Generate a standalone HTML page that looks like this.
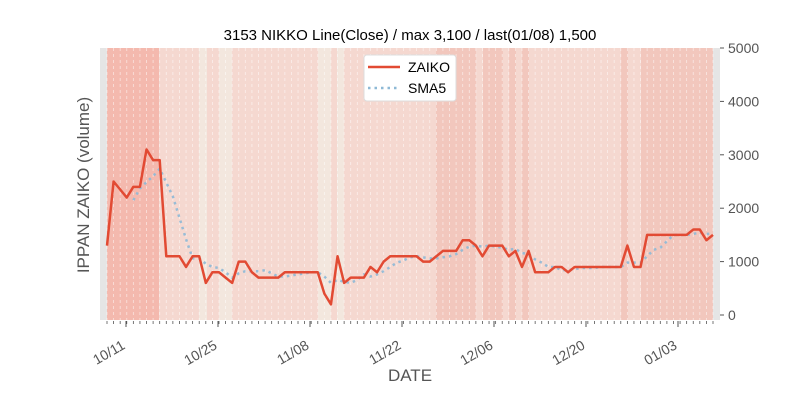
<!DOCTYPE html><html><head><style>body{margin:0;background:#fff}svg{font-family:"Liberation Sans","DejaVu Sans",sans-serif}</style></head><body>
<svg id="s" width="800" height="400" xmlns="http://www.w3.org/2000/svg">
<rect x="100" y="48" width="620" height="272" fill="#e5e5e5"/>
<g id="bands"></g><g id="grid"></g><g id="lines"></g>
<text x="410" y="40" font-size="15" text-anchor="middle" fill="#000">3153 NIKKO Line(Close) / max 3,100 / last(01/08) 1,500</text>
<text transform="translate(89,185) rotate(-90)" font-size="17" fill="#555" text-anchor="middle">IPPAN ZAIKO (volume)</text>
<text x="410" y="381" font-size="17" fill="#555" text-anchor="middle">DATE</text>
<g id="ticks" font-size="14" fill="#555"></g>
<g>
<rect x="364" y="55" width="92" height="46" fill="#fff" stroke="#ddd" rx="3"/>
<line x1="368" y1="67" x2="400" y2="67" stroke="#e24a33" stroke-width="2.5"/>
<line x1="368" y1="88" x2="400" y2="88" stroke="#8eb9d6" stroke-width="2.5" stroke-dasharray="2.5,4"/>
<text x="408" y="72" font-size="14">ZAIKO</text><text x="408" y="93" font-size="14">SMA5</text>
</g>
</svg>
<script>
const NS="http://www.w3.org/2000/svg",s=document.getElementById('s');
function el(p,t,a,txt){const e=document.createElementNS(NS,t);for(const k in a)e.setAttribute(k,a[k]);if(txt)e.textContent=txt;document.getElementById(p).appendChild(e);return e;}
const v=[1300,2500,2350,2200,2400,2400,3100,2900,2900,1100,1100,1100,900,1100,1100,600,800,800,700,600,1000,1000,800,700,700,700,700,800,800,800,800,800,800,400,200,1100,600,700,700,700,900,800,1000,1100,1100,1100,1100,1100,1000,1000,1100,1200,1200,1200,1400,1400,1300,1100,1300,1300,1300,1100,1200,900,1200,800,800,800,900,900,800,900,900,900,900,900,900,900,900,1300,900,900,1500,1500,1500,1500,1500,1500,1500,1600,1600,1400,1500];
const X=i=>107+i*(606/(v.length-1)),Y=d=>315-d*0.0534;
const bands=[[107,159,'#f4b9ae'],[159,199,'#f5d8d0'],[199,207,'#f3e7de'],[207,219,'#f5d8d0'],[219,232,'#f3e7de'],[232,318,'#f5d8d0'],[318,331,'#f3e7de'],[331,337,'#f5d8d0'],[337,344,'#f3e7de'],[344,436,'#f5d8d0'],[436,476,'#f2c7bd'],[476,483,'#f5d8d0'],[483,503,'#f2c7bd'],[503,509,'#f5d8d0'],[509,516,'#f2c7bd'],[516,522,'#f5d8d0'],[522,529,'#f2c7bd'],[529,621,'#f5d8d0'],[621,628,'#f2c7bd'],[628,641,'#f5d8d0'],[641,713,'#f2c7bd']];
bands.forEach(b=>el('bands','rect',{x:b[0],y:48,width:b[1]-b[0],height:272,fill:b[2]}));
for(let i=0;i<v.length;i++){el('grid','line',{x1:X(i),x2:X(i),y1:48,y2:320,stroke:'#fff','stroke-width':0.8,'stroke-dasharray':'3,3',opacity:0.6});el('grid','line',{x1:X(i),x2:X(i),y1:321,y2:324,stroke:'#555','stroke-width':0.8});}
let sm=[];for(let i=4;i<v.length;i++){let a=0;for(let j=i-4;j<=i;j++)a+=v[j];sm.push(X(i)+','+Y(a/5));}
el('lines','polyline',{points:sm.join(' '),fill:'none',stroke:'#8eb9d6','stroke-width':2.5,'stroke-dasharray':'2.5,4',opacity:0.9});
el('lines','polyline',{points:v.map((d,i)=>X(i)+','+Y(d)).join(' '),fill:'none',stroke:'#e24a33','stroke-width':2.5,'stroke-linejoin':'round'});
[0,1000,2000,3000,4000,5000].forEach(d=>{el('ticks','line',{x1:720,x2:724,y1:Y(d),y2:Y(d),stroke:'#555'});el('ticks','text',{x:728,y:Y(d)+5},String(d));});
['10/11','10/25','11/08','11/22','12/06','12/20','01/03'].forEach((t,k)=>{const x=126+k*92;el('ticks','line',{x1:x,x2:x,y1:321,y2:327,stroke:'#555'});el('ticks','text',{x:x,y:348,'text-anchor':'end',transform:`rotate(-30 ${x} 348)`},t);});
</script></body></html>
